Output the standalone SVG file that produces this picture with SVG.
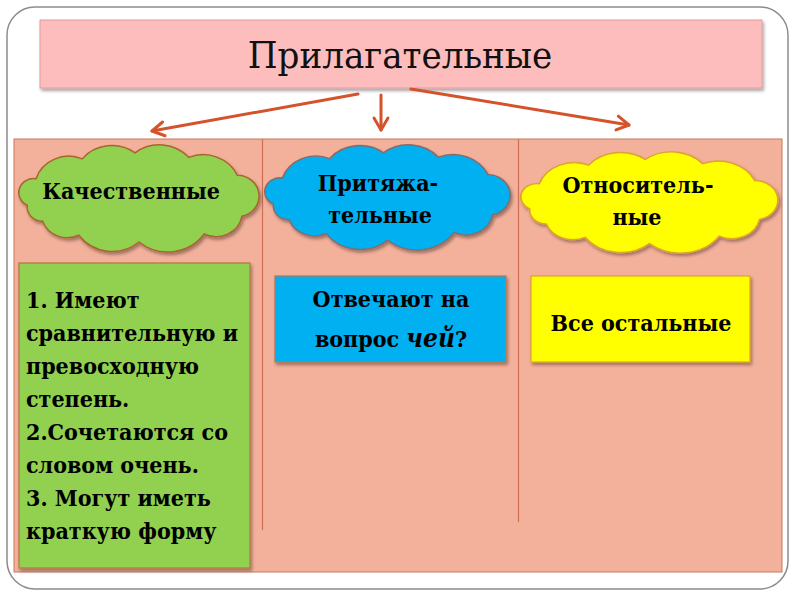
<svg xmlns="http://www.w3.org/2000/svg" width="800" height="600" viewBox="0 0 800 600">
<defs>
<style>
.lbl{font-family:"DejaVu Serif Condensed","DejaVu Serif",serif;font-stretch:condensed;font-weight:bold;font-size:23px;fill:#000}
.ttl{font-family:"DejaVu Serif Condensed","DejaVu Serif",serif;font-stretch:condensed;font-size:38px;fill:#111}
.cloud{vector-effect:non-scaling-stroke;stroke-width:1.5}
.box{stroke-width:1.2}
.conn{stroke:#d4532b;stroke-width:3;fill:none;stroke-linecap:round}
</style>
<filter id="sh" x="-10%" y="-10%" width="125%" height="130%">
<feDropShadow dx="1.5" dy="2.5" stdDeviation="1.5" flood-color="#000" flood-opacity="0.35"/>
</filter>
<marker id="arr" markerUnits="userSpaceOnUse" markerWidth="20" markerHeight="20" viewBox="0 0 20 20" refX="16" refY="10" orient="auto">
<path d="M4,3 L16,10 L4,17" fill="none" stroke="#d4532b" stroke-width="3" stroke-linecap="round" stroke-linejoin="round"/>
</marker>
<path id="cloudShape" d="M13.8,60.8 A14.2,14.2 0 0 1 22.3,34 A32.8,32.8 0 0 1 66.5,14 A37,37 0 0 1 117.2,8 A37.6,37.6 0 0 1 168.7,12.5 A36.3,36.3 0 0 1 215.3,30.5 A21,21 0 0 1 219.7,72 A25.3,25.3 0 0 1 183.5,89.9 A42.7,42.7 0 0 1 121,98 A39.5,39.5 0 0 1 63.3,91.2 A25.3,25.3 0 0 1 28.6,76.9 A14.5,14.5 0 0 1 13.8,60.8 Z"/>
</defs>
<rect x="0" y="0" width="800" height="600" fill="#fff"/>
<rect x="7" y="7" width="781" height="582" rx="28" ry="28" fill="#fff" stroke="#8c8c8c" stroke-width="1.5"/>
<g id="panel">
<rect x="14" y="139" width="768" height="433" fill="#f3b09b" stroke="#c8785c" stroke-width="1"/>
<line x1="262.5" y1="139" x2="262.5" y2="530" stroke="#d07050" stroke-width="1.2"/>
<line x1="518.5" y1="139" x2="518.5" y2="522" stroke="#d07050" stroke-width="1.2"/>
</g>
<g id="title">
<rect x="40" y="20" width="722" height="68" fill="#fdbdbd" stroke="#e49a9a" stroke-width="1" filter="url(#sh)"/>
<text class="ttl" x="400" y="68" text-anchor="middle">Прилагательные</text>
</g>
<g id="connectors">
<line class="conn" x1="358" y1="94" x2="152" y2="131" marker-end="url(#arr)"/>
<line class="conn" x1="381" y1="95" x2="381" y2="130" marker-end="url(#arr)"/>
<line class="conn" x1="411" y1="89" x2="629" y2="125" marker-end="url(#arr)"/>
</g>
<g id="cloud-qual">
<use href="#cloudShape" class="cloud" transform="translate(12.8,145) scale(1.043,0.99)" fill="#92d050" stroke="#a8662c" filter="url(#sh)"/>
<text class="lbl" x="131" y="199" text-anchor="middle">Качественные</text>
</g>
<g id="cloud-poss">
<use href="#cloudShape" class="cloud" transform="translate(258.7,145) scale(1.065,0.972)" fill="#00b0f0" stroke="#8a6a66" filter="url(#sh)"/>
<text class="lbl" x="378" y="191" text-anchor="middle">Притяжа-</text>
<text class="lbl" x="380" y="223" text-anchor="middle">тельные</text>
</g>
<g id="cloud-rel">
<use href="#cloudShape" class="cloud" transform="translate(514.4,152) scale(1.116,0.935)" fill="#ffff00" stroke="#e0a030" filter="url(#sh)"/>
<text class="lbl" x="638" y="193" text-anchor="middle">Относитель-</text>
<text class="lbl" x="637" y="225" text-anchor="middle">ные</text>
</g>
<g id="box-qual">
<rect class="box" x="19" y="263" width="231" height="305" fill="#92d050" stroke="#b07a40" filter="url(#sh)"/>
<text class="lbl" x="26" y="308">1. Имеют</text>
<text class="lbl" x="26" y="341">сравнительную и</text>
<text class="lbl" x="26" y="374">превосходную</text>
<text class="lbl" x="26" y="407">степень.</text>
<text class="lbl" x="26" y="440">2.Сочетаются со</text>
<text class="lbl" x="26" y="473">словом очень.</text>
<text class="lbl" x="26" y="506">3. Могут иметь</text>
<text class="lbl" x="26" y="539">краткую форму</text>
</g>
<g id="box-poss">
<rect class="box" x="275" y="276" width="231" height="86" fill="#00b0f0" stroke="#b07a50" filter="url(#sh)"/>
<text class="lbl" x="391" y="307" text-anchor="middle">Отвечают на</text>
<text class="lbl" x="391" y="347" text-anchor="middle">вопрос <tspan style="font-style:italic;font-size:26px">чей</tspan>?</text>
</g>
<g id="box-rel">
<rect class="box" x="531" y="276" width="219" height="86" fill="#ffff00" stroke="#e0a030" filter="url(#sh)"/>
<text class="lbl" x="641" y="331" text-anchor="middle">Все остальные</text>
</g>
</svg>
